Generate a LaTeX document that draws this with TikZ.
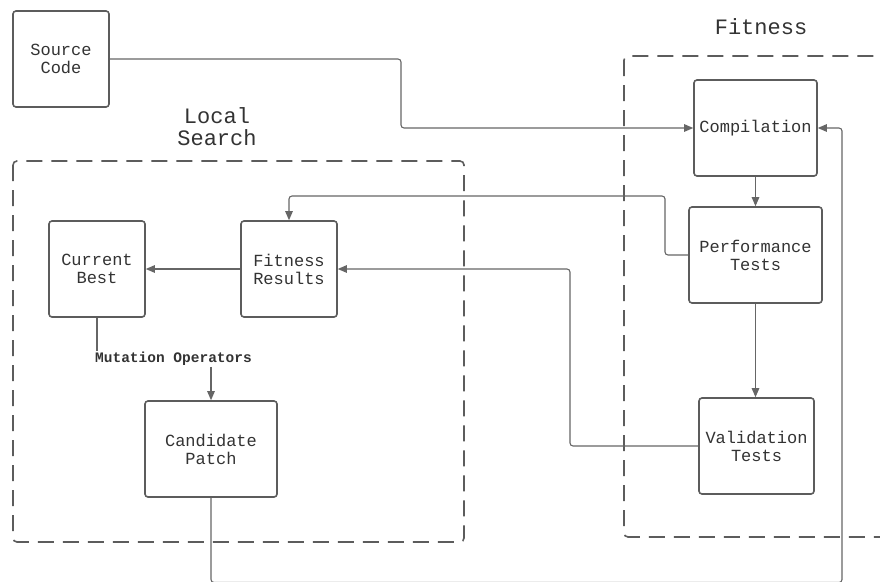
\documentclass[tikz,border=0pt]{standalone}
\usepackage{fontspec}
\newfontfamily\dmono{Liberation Mono}
\usetikzlibrary{arrows.meta}
\definecolor{txt}{HTML}{333333}
\definecolor{edge}{HTML}{5C5C5C}
\definecolor{ln}{HTML}{666666}
\tikzset{
  box/.style={draw=edge, line width=1.6pt, rounded corners=3pt, align=center,
    text=txt, font=\dmono\fontsize{17}{18}\selectfont, inner sep=0pt},
  conn/.style={draw=ln, line width=1.1pt, rounded corners=3pt,
    -{Triangle[length=9pt,width=7.5pt]}},
  plain/.style={draw=ln, line width=1.1pt, rounded corners=3pt},
  frame/.style={draw=edge, line width=1.6pt, dash pattern=on 16pt off 9pt, rounded corners=4pt},
  title/.style={text=txt, align=center, font=\dmono\fontsize{22}{22}\selectfont},
  lbl/.style={text=txt, font=\dmono\bfseries\fontsize{14.5}{15}\selectfont, inner sep=1pt}
}
\begin{document}
\begin{tikzpicture}[x=1pt,y=-1pt]
\useasboundingbox (0,0) rectangle (880,581);
\clip (0,0) rectangle (880,581);
\fill[white] (0,0) rectangle (880,581);
% frames
\draw[frame] (13,161) rectangle (464,542);
\draw[frame] (624,56) rectangle (910,537);
\node[title] (tls) at (217,127) {Local\\Search};
\node[title] (tfit) at (761,27) {Fitness};
% nodes
\node[box, minimum width=96, minimum height=96] (src) at (61,59) {Source\\Code};
\node[box, minimum width=123, minimum height=96] (comp) at (755.5,128) {Compilation};
\node[box, minimum width=133, minimum height=96] (perf) at (755.5,255) {Performance\\Tests};
\node[box, minimum width=115, minimum height=96] (val) at (756.5,446) {Validation\\Tests};
\node[box, minimum width=96, minimum height=96] (cb) at (97,269) {Current\\Best};
\node[box, minimum width=96, minimum height=96] (fit) at (289,269) {Fitness\\Results};
\node[box, minimum width=132, minimum height=96] (cand) at (211,449) {Candidate\\Patch};
\node[lbl] (mut) at (173.5,359) {Mutation Operators};
% connectors
\draw[conn] (src.east) -- (401,59) -- (401,128) -- (comp.west);
\draw[conn] (comp.south) -- (perf.north);
\draw[conn] (perf.south) -- (perf.south |- val.north);
\draw[conn] (perf.west) -| (665,196) -| (fit.north);
\draw[conn] (val.west) -| (570,269) -- (fit.east);
\draw[conn] (fit.west) -- (cb.east);
\draw[plain] (cb.south) -- (cb.south |- mut.north);
\draw[conn] (mut.south -| cand.north) -- (cand.north);
\draw[conn] (cand.south) -- (211,582.5) -| (842,128) -- (comp.east);
\end{tikzpicture}
\end{document}
